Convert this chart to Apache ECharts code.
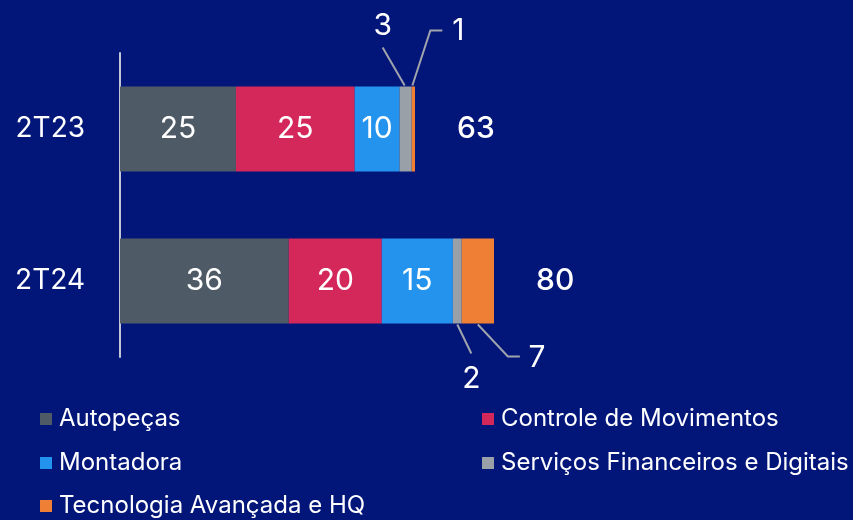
<!DOCTYPE html>
<html>
<head>
<meta charset="utf-8">
<script src="https://cdn.jsdelivr.net/npm/echarts@6/dist/echarts.min.js"></script>
<style>
  html, body { margin: 0; padding: 0; background: #02167a; }
  #chart { width: 853px; height: 520px; }
</style>
</head>
<body>
<div id="chart"></div>
<script>
// periods on the y axis
const periods = ['2T23', '2T24'];

// segment values (labels show rounded numbers)
const autopecas = [24.8, 36.1];
const controle = [25.4, 19.9];
const montadora = [9.6, 15.2];
const servicos = [2.6, 1.9];
const tecnologia = [0.7, 6.9];
const totals = [63, 80];

const names = ['Autopeças', 'Controle de Movimentos', 'Montadora', 'Serviços Financeiros e Digitais', 'Tecnologia Avançada e HQ'];
const colors = ['#4e5a66', '#d4285a', '#2393ee', '#9aa0a8', '#ee7f35'];
const segments = [autopecas, controle, montadora, servicos, tecnologia];

const font = 'Inter, "Noto Sans", sans-serif';
const barWidth = 85;

// callouts for the thin segments (series index 3 and 4), per period:
// label offset and leader bends in px from the top centre (dy < 0) or bottom centre of the segment
const callouts = {
    3: [
        { label: [-23, -61], line: [[-1, -1], [-23, -39]] },
        { label: [14, 55], line: [[0, 1], [14, 30]] }
    ],
    4: [
        { label: [45, -56], line: [[-1, -1], [17, -56], [29, -56]] },
        { label: [59, 34], line: [[0, 1], [30, 33], [42, 33]] }
    ]
};

const chart = echarts.init(document.getElementById('chart'));

function innerLabel() {
    return {
        show: true,
        position: 'inside',
        color: '#ffffff',
        fontFamily: font,
        fontSize: 30,
        formatter: p => Math.round(p.value)
    };
}

const base = {
    type: 'bar',
    stack: 'total',
    barWidth: barWidth,
    emphasis: { disabled: true }
};

function renderCallouts(params, api) {
    const i = api.value(1);
    const children = [];
    Object.keys(callouts).forEach(k => {
        k = +k;
        let start = 0;
        for (let j = 0; j < k; j++) start += segments[j][i];
        const val = segments[k][i];
        const a = api.coord([start, i]);
        const b = api.coord([start + val, i]);
        const cx = (a[0] + b[0]) / 2;
        const s = callouts[k][i];
        const ey = s.label[1] < 0 ? a[1] - barWidth / 2 : a[1] + barWidth / 2;
        children.push({
            type: 'polyline',
            shape: { points: s.line.map(p => [cx + p[0], ey + p[1]]) },
            style: { stroke: '#a0a4ac', lineWidth: 2, fill: null }
        });
        children.push({
            type: 'text',
            style: {
                text: String(Math.round(val)),
                x: cx + s.label[0],
                y: ey + s.label[1],
                align: 'center',
                verticalAlign: 'middle',
                fill: '#ffffff',
                fontFamily: font,
                fontSize: 30
            }
        });
    });
    return { type: 'group', children: children };
}

const series = [
    Object.assign({}, base, { name: names[0], data: autopecas, itemStyle: { color: colors[0] }, label: innerLabel() }),
    Object.assign({}, base, { name: names[1], data: controle, itemStyle: { color: colors[1] }, label: innerLabel() }),
    Object.assign({}, base, { name: names[2], data: montadora, itemStyle: { color: colors[2] }, label: innerLabel() }),
    Object.assign({}, base, { name: names[3], data: servicos, itemStyle: { color: colors[3] } }),
    Object.assign({}, base, { name: names[4], data: tecnologia, itemStyle: { color: colors[4] } }),
    Object.assign({}, base, {
        name: 'Total',
        data: totals.map(() => 0),
        itemStyle: { color: 'transparent' },
        label: {
            show: true,
            position: 'right',
            distance: 42,
            color: '#ffffff',
            fontFamily: font,
            fontSize: 30,
            fontWeight: 500,
            formatter: p => totals[p.dataIndex]
        }
    }),
    {
        type: 'custom',
        name: 'callouts',
        clip: false,
        silent: true,
        encode: { x: 0, y: 1 },
        data: periods.map((p, i) => [0, i]),
        renderItem: renderCallouts
    }
];

// one legend per entry so they sit in two columns
const legendPos = [[40, 407], [482, 407], [40, 451], [482, 451], [40, 494]];
const legends = names.map((n, i) => ({
    data: [n],
    left: legendPos[i][0],
    top: legendPos[i][1],
    padding: 0,
    icon: 'rect',
    itemWidth: 12,
    itemHeight: 12,
    itemGap: 0,
    selectedMode: false,
    textStyle: {
        color: '#ffffff',
        fontFamily: font,
        fontSize: 24,
        padding: [0, 0, 0, 2]
    }
}));

chart.setOption({
    backgroundColor: '#02167a',
    animation: false,
    color: colors,
    legend: legends,
    grid: { left: 120, right: 359, top: 53, height: 304, containLabel: false },
    xAxis: {
        type: 'value',
        min: 0,
        max: 80,
        show: false
    },
    yAxis: {
        type: 'category',
        data: periods,
        inverse: true,
        axisLine: { show: true, lineStyle: { color: '#c2c6d6', width: 2 } },
        axisTick: { show: false },
        axisLabel: {
            color: '#ffffff',
            fontFamily: font,
            fontSize: 28,
            margin: 35
        }
    },
    series: series
});
</script>
</body>
</html>
